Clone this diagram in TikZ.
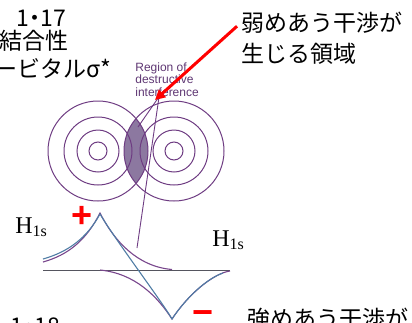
\documentclass[tikz,border=0pt]{standalone}
\usepackage{fontspec}
\setmainfont{Liberation Serif}
\setsansfont{Liberation Sans}
\newfontfamily\jpfont{Noto Sans CJK JP}
\newfontfamily\jpnumfont{Noto Sans CJK JP}[RawFeature=+palt]
\usetikzlibrary{arrows.meta}

\definecolor{orbline}{RGB}{110,60,130}
\definecolor{lensfill}{RGB}{140,120,160}
\definecolor{psipurple}{RGB}{120,70,140}
\definecolor{psiblue}{RGB}{80,125,165}
\definecolor{axisgray}{RGB}{85,85,95}
\definecolor{tagpurple}{RGB}{95,55,115}

\tikzset{
  jp/.style={font=\jpfont\fontsize{11.5pt}{14pt}\selectfont,
             inner sep=0pt, anchor=base west},
  jpnum/.style={jp, font=\jpnumfont\fontsize{11.5pt}{14pt}\selectfont},
  hlabel/.style={font=\fontsize{12pt}{14pt}\selectfont,
                 inner sep=0pt, anchor=base west},
  sign/.style={font=\sffamily\bfseries\fontsize{18pt}{18pt}\selectfont,
               text=red, inner sep=0pt},
  tag/.style={font=\sffamily\fontsize{6pt}{6.25pt}\selectfont,
              text=tagpurple, align=left, inner sep=0pt, anchor=north west},
  orbit/.style={draw=orbline, line width=0.5pt},
  psi/.style={draw=psipurple, line width=0.55pt},
  psidiff/.style={draw=psiblue, line width=0.55pt},
  axisline/.style={draw=axisgray, line width=0.5pt},
  leader/.style={draw=orbline, line width=0.45pt},
  redarrow/.style={draw=red, line width=1.5pt,
                   -{Triangle[length=5pt,width=5pt]}},
}

\begin{document}
\begin{tikzpicture}[x=0.5pt, y=-0.5pt]

  \useasboundingbox (0,0) rectangle (412,322);
  \clip (0,0) rectangle (412,322);

  % captions
  \node[jpnum] (fig17) at (16,26) {1・17};
  \node[jp] (anti) at (-1,49) {結合性};
  \node[jp] (sigma) at (-6,77) {ービタルσ*};
  \node[jp] (weak1) at (241,31) {弱めあう干渉が};
  \node[jp] (weak2) at (241,62) {生じる領域};
  \node[jpnum] (fig18) at (10,334) {1・18};
  \node[jp] (strong) at (247,327) {強めあう干渉が};

  % two 1s orbitals seen as rings
  \coordinate (orbA) at (98,151);
  \coordinate (orbB) at (174,151);

  \begin{scope}
    \clip (orbA) circle (50);
    \fill[lensfill] (orbB) circle (50);
  \end{scope}
  \foreach \r in {9,21,34,50} {
    \draw[orbit] (orbA) circle (\r);
    \draw[orbit] (orbB) circle (\r);
  }

  \node[tag] (region) at (135,62) {Region of\\destructive\\interference};
  \coordinate (lensmark) at (138,127);
  \coordinate (nodept) at (137,248);
  \draw[leader] ([xshift=-4pt]region.south) -- (lensmark);
  \draw[leader] ([xshift=-4pt]region.south) -- (nodept);

  \coordinate (destr) at (155,100);
  \draw[redarrow] ([xshift=-2pt,yshift=-2pt]weak1.west) -- (destr);

  % wave functions along the bond axis
  \coordinate (axL) at (43,270);
  \coordinate (axR) at (230,270);
  \draw[axisline] (axL) -- (axR);

  \draw[psi] (43,262) .. controls (68,255) and (86,240.6) .. (100,213)
             .. controls (114,240.6) and (137,266.5) .. (172,269.5);
  \draw[psi] (100,270) .. controls (135,273.5) and (157,296) .. (172,319)
             .. controls (187,296) and (212,273.7) .. (230,271);
  \draw[psidiff] (43,259) .. controls (68,252) and (87,238) .. (100,214)
                 .. controls (114,238) and (163,303) .. (172,319)
                 .. controls (186,298) and (206,279) .. (223,273);

  \node[hlabel] (hA) at (15,233) {H\textsubscript{1s}};
  \node[hlabel] (hB) at (212,246) {H\textsubscript{1s}};

  \node[sign] (plus) at (82,217) {+};
  \node[sign] (minus) at (203,318) {−};

\end{tikzpicture}
\end{document}
